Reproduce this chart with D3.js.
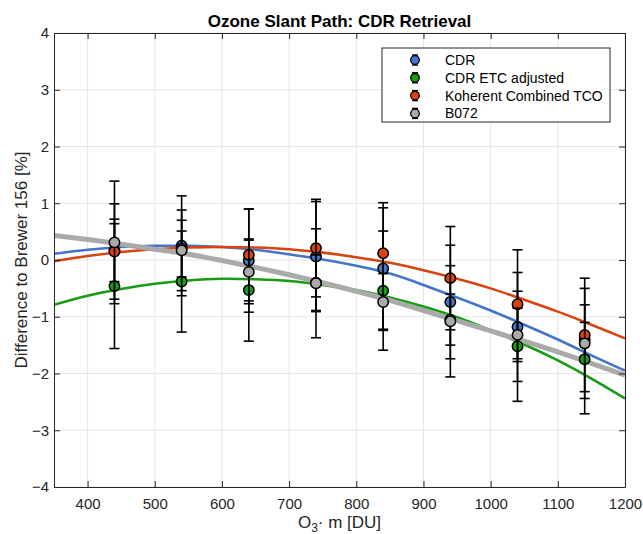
<!DOCTYPE html>
<html>
<head>
<meta charset="utf-8">
<script src="https://cdn.jsdelivr.net/npm/d3@7"></script>
<style>
  body { margin: 0; background: #fff; }
  svg { display: block; font-family: "Liberation Sans", Arial, sans-serif; }
</style>
</head>
<body>
<div id="chart"></div>
<script>
// Measurement positions (O3 * m, DU)
const ozoneSlant = [440, 540, 640, 740, 840, 940, 1040, 1140];

// Mean differences to Brewer 156 [%]
const cdrMean      = [0.17, 0.25, -0.01, 0.06, -0.15, -0.74, -1.18, -1.40];
const cdrEtcMean   = [-0.46, -0.38, -0.53, -0.40, -0.54, -1.05, -1.52, -1.75];
const koherentMean = [0.15, 0.20, 0.09, 0.21, 0.12, -0.32, -0.78, -1.32];
const b072Mean     = [0.31, 0.17, -0.21, -0.41, -0.74, -1.08, -1.32, -1.47];

// Error bar half-widths [%]
const cdrErr      = [0.55, 0.88, 0.91, 0.97, 1.07, 1.00, 0.96, 0.30];
const cdrEtcErr   = [1.10, 0.89, 0.90, 0.49, 1.05, 0.45, 0.97, 0.96];
const koherentErr = [0.84, 0.50, 0.81, 0.86, 0.89, 0.91, 0.96, 1.00];
const b072Err     = [1.08, 0.71, 0.56, 0.96, 0.50, 0.98, 0.47, 0.97];

// Fitted curves
const fitX = [350, 400, 450, 500, 550, 600, 650, 700, 750, 800, 850, 900, 950, 1000, 1050, 1100, 1150, 1200];
const cdrFit      = [0.11, 0.18, 0.23, 0.25, 0.25, 0.23, 0.18, 0.10, 0.01, -0.10, -0.24, -0.44, -0.66, -0.89, -1.14, -1.40, -1.68, -1.95];
const cdrEtcFit   = [-0.79, -0.63, -0.51, -0.42, -0.36, -0.33, -0.34, -0.37, -0.44, -0.53, -0.66, -0.82, -1.01, -1.24, -1.49, -1.77, -2.09, -2.44];
const koherentFit = [-0.02, 0.07, 0.14, 0.19, 0.22, 0.23, 0.22, 0.19, 0.13, 0.05, -0.05, -0.18, -0.33, -0.50, -0.70, -0.91, -1.14, -1.38];
const b072Fit     = [0.43, 0.36, 0.28, 0.19, 0.10, -0.01, -0.13, -0.26, -0.40, -0.55, -0.71, -0.89, -1.07, -1.25, -1.43, -1.62, -1.82, -2.03];

const seriesNames = ['CDR', 'CDR ETC adjusted', 'Koherent Combined TCO', 'B072'];
const xTicks = [400, 500, 600, 700, 800, 900, 1000, 1100, 1200];
const yTicks = [-4, -3, -2, -1, 0, 1, 2, 3, 4];

const colors = ['#4575c8', '#179c14', '#d8430e', '#aaaaaa'];
const fitWidths = [2.6, 2.6, 2.6, 5];

const series = seriesNames.map((name, i) => ({
  name,
  color: colors[i],
  width: fitWidths[i],
  mean: [cdrMean, cdrEtcMean, koherentMean, b072Mean][i],
  err: [cdrErr, cdrEtcErr, koherentErr, b072Err][i],
  fit: [cdrFit, cdrEtcFit, koherentFit, b072Fit][i],
}));

const W = 643, H = 534;
const margin = { top: 33, right: 18, bottom: 47, left: 54 };
const width = W - margin.left - margin.right;
const height = H - margin.top - margin.bottom;
const axisColor = '#262626';

const svg = d3.select('#chart').append('svg')
  .attr('width', W)
  .attr('height', H);

const g = svg.append('g')
  .attr('transform', `translate(${margin.left},${margin.top})`);

// Scales
const x = d3.scaleLinear().domain([350, 1200]).range([0, width]);
const y = d3.scaleLinear().domain([-4, 4]).range([height, 0]);

// Grid
g.append('g')
  .selectAll('line')
  .data(xTicks)
  .join('line')
  .attr('x1', d => x(d)).attr('x2', d => x(d))
  .attr('y1', 0).attr('y2', height)
  .attr('stroke', '#e6e6e6');

g.append('g')
  .selectAll('line')
  .data(yTicks)
  .join('line')
  .attr('x1', 0).attr('x2', width)
  .attr('y1', d => y(d)).attr('y2', d => y(d))
  .attr('stroke', '#e6e6e6');

// Clip
svg.append('defs').append('clipPath').attr('id', 'plot-clip')
  .append('rect').attr('width', width).attr('height', height);

const plot = g.append('g').attr('clip-path', 'url(#plot-clip)');

// Fit curves
const line = d3.line()
  .x((d, i) => x(fitX[i]))
  .y(d => y(d))
  .curve(d3.curveNatural);

series.forEach(s => {
  plot.append('path')
    .datum(s.fit)
    .attr('fill', 'none')
    .attr('stroke', s.color)
    .attr('stroke-width', s.width)
    .attr('d', line);
});

// Error bars + markers (drawn per series, later series on top)
const capHalf = 5;
series.forEach(s => {
  const eg = plot.append('g');
  const pts = ozoneSlant.map((v, i) => ({ x: v, m: s.mean[i], e: s.err[i] }));

  eg.selectAll('.bar').data(pts).join('line')
    .attr('x1', d => x(d.x)).attr('x2', d => x(d.x))
    .attr('y1', d => y(d.m + d.e)).attr('y2', d => y(d.m - d.e))
    .attr('stroke', '#000').attr('stroke-width', 1.6);

  eg.selectAll('.cap-top').data(pts).join('line')
    .attr('x1', d => x(d.x) - capHalf).attr('x2', d => x(d.x) + capHalf)
    .attr('y1', d => y(d.m + d.e)).attr('y2', d => y(d.m + d.e))
    .attr('stroke', '#000').attr('stroke-width', 1.6);

  eg.selectAll('.cap-bot').data(pts).join('line')
    .attr('x1', d => x(d.x) - capHalf).attr('x2', d => x(d.x) + capHalf)
    .attr('y1', d => y(d.m - d.e)).attr('y2', d => y(d.m - d.e))
    .attr('stroke', '#000').attr('stroke-width', 1.6);

  eg.selectAll('circle').data(pts).join('circle')
    .attr('cx', d => x(d.x))
    .attr('cy', d => y(d.m))
    .attr('r', 5.2)
    .attr('fill', s.color)
    .attr('stroke', '#000')
    .attr('stroke-width', 1.5);
});

// Axes (MATLAB style: box, ticks inward)
function styleAxis(sel) {
  sel.select('.domain').attr('stroke', axisColor);
  sel.selectAll('.tick line').attr('stroke', axisColor);
  sel.selectAll('text').attr('fill', axisColor).attr('font-size', '15px');
}

g.append('g')
  .attr('transform', `translate(0,${height})`)
  .call(d3.axisBottom(x).tickValues(xTicks).tickFormat(d3.format('d'))
    .tickSize(-6).tickSizeOuter(0).tickPadding(11))
  .call(styleAxis);

g.append('g')
  .call(d3.axisTop(x).tickValues(xTicks).tickSize(-6).tickSizeOuter(0).tickFormat(''))
  .call(styleAxis);

g.append('g')
  .call(d3.axisLeft(y).tickValues(yTicks).tickFormat(d3.format('d'))
    .tickSize(-6).tickSizeOuter(0).tickPadding(5))
  .call(styleAxis);

g.append('g')
  .attr('transform', `translate(${width},0)`)
  .call(d3.axisRight(y).tickValues(yTicks).tickSize(-6).tickSizeOuter(0).tickFormat(''))
  .call(styleAxis);

// Title
svg.append('text')
  .attr('x', margin.left + width / 2)
  .attr('y', 26.5)
  .attr('text-anchor', 'middle')
  .attr('font-size', '17px')
  .attr('font-weight', 'bold')
  .attr('fill', '#000')
  .text('Ozone Slant Path: CDR Retrieval');

// X label with subscript
const xl = svg.append('text')
  .attr('x', margin.left + width / 2)
  .attr('y', 528)
  .attr('text-anchor', 'middle')
  .attr('font-size', '17px')
  .attr('fill', axisColor);
xl.append('tspan').text('O');
xl.append('tspan').attr('font-size', '12px').attr('dy', 4).text('3');
xl.append('tspan').attr('dy', -4).text('· m [DU]');

// Y label
svg.append('text')
  .attr('transform', `translate(26.5,${margin.top + height / 2}) rotate(-90)`)
  .attr('text-anchor', 'middle')
  .attr('font-size', '17px')
  .attr('fill', axisColor)
  .text('Difference to Brewer 156 [%]');

// Legend
const legend = svg.append('g').attr('transform', 'translate(382,48)');
legend.append('rect')
  .attr('width', 228).attr('height', 74)
  .attr('fill', '#fff')
  .attr('stroke', axisColor)
  .attr('stroke-width', 1);

series.forEach((s, i) => {
  const row = legend.append('g').attr('transform', `translate(33,${12 + i * 17.8})`);
  row.append('line').attr('x1', 0).attr('x2', 0).attr('y1', -5).attr('y2', 5)
    .attr('stroke', '#000').attr('stroke-width', 1.4);
  row.append('line').attr('x1', -3).attr('x2', 3).attr('y1', -5).attr('y2', -5)
    .attr('stroke', '#000').attr('stroke-width', 1.4);
  row.append('line').attr('x1', -3).attr('x2', 3).attr('y1', 5).attr('y2', 5)
    .attr('stroke', '#000').attr('stroke-width', 1.4);
  row.append('circle').attr('r', 4.3)
    .attr('fill', s.color).attr('stroke', '#000').attr('stroke-width', 1.3);
  row.append('text')
    .attr('x', 30).attr('y', 5)
    .attr('font-size', '14px')
    .attr('fill', '#000')
    .text(s.name);
});
</script>
</body>
</html>
